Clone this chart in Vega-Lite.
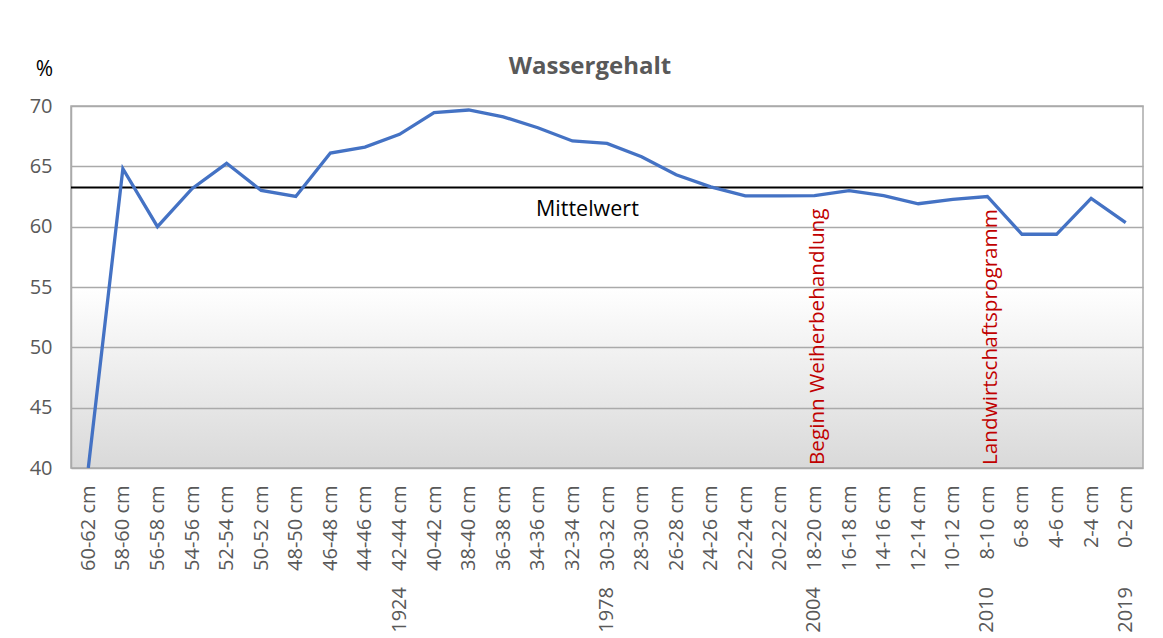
{
  "$schema": "https://vega.github.io/schema/vega-lite/v6.json",
  "autosize": "none",
  "padding": {"left": 71, "top": 106, "right": 20, "bottom": 170},
  "width": 1072,
  "height": 362,
  "background": "white",
  "title": {
    "text": "Wassergehalt",
    "fontSize": 24,
    "fontWeight": "bold",
    "color": "#595959",
    "anchor": "middle",
    "dx": -17,
    "dy": 47,
    "offset": 26
  },
  "config": {
    "font": "Open Sans",
    "view": {
      "stroke": "#aaaaaa",
      "strokeWidth": 1.5,
      "fill": {
        "gradient": "linear",
        "x1": 0, "y1": 0, "x2": 0, "y2": 1,
        "stops": [
          {"offset": 0, "color": "#ffffff"},
          {"offset": 0.5, "color": "#ffffff"},
          {"offset": 1, "color": "#d9d9d9"}
        ]
      }
    }
  },
  "datasets": {
    "werte": [
      {"tiefe": "60-62 cm", "wert": 40, "jahr": ""},
      {"tiefe": "58-60 cm", "wert": 64.8, "jahr": ""},
      {"tiefe": "56-58 cm", "wert": 60.0, "jahr": ""},
      {"tiefe": "54-56 cm", "wert": 63.15, "jahr": ""},
      {"tiefe": "52-54 cm", "wert": 65.25, "jahr": ""},
      {"tiefe": "50-52 cm", "wert": 63.0, "jahr": ""},
      {"tiefe": "48-50 cm", "wert": 62.5, "jahr": ""},
      {"tiefe": "46-48 cm", "wert": 66.1, "jahr": ""},
      {"tiefe": "44-46 cm", "wert": 66.6, "jahr": ""},
      {"tiefe": "42-44 cm", "wert": 67.65, "jahr": "1924"},
      {"tiefe": "40-42 cm", "wert": 69.45, "jahr": ""},
      {"tiefe": "38-40 cm", "wert": 69.67, "jahr": ""},
      {"tiefe": "36-38 cm", "wert": 69.1, "jahr": ""},
      {"tiefe": "34-36 cm", "wert": 68.2, "jahr": ""},
      {"tiefe": "32-34 cm", "wert": 67.1, "jahr": ""},
      {"tiefe": "30-32 cm", "wert": 66.9, "jahr": "1978"},
      {"tiefe": "28-30 cm", "wert": 65.8, "jahr": ""},
      {"tiefe": "26-28 cm", "wert": 64.3, "jahr": ""},
      {"tiefe": "24-26 cm", "wert": 63.3, "jahr": ""},
      {"tiefe": "22-24 cm", "wert": 62.55, "jahr": ""},
      {"tiefe": "20-22 cm", "wert": 62.55, "jahr": ""},
      {"tiefe": "18-20 cm", "wert": 62.57, "jahr": "2004"},
      {"tiefe": "16-18 cm", "wert": 62.98, "jahr": ""},
      {"tiefe": "14-16 cm", "wert": 62.57, "jahr": ""},
      {"tiefe": "12-14 cm", "wert": 61.9, "jahr": ""},
      {"tiefe": "10-12 cm", "wert": 62.27, "jahr": ""},
      {"tiefe": "8-10 cm", "wert": 62.5, "jahr": "2010"},
      {"tiefe": "6-8 cm", "wert": 59.37, "jahr": ""},
      {"tiefe": "4-6 cm", "wert": 59.37, "jahr": ""},
      {"tiefe": "2-4 cm", "wert": 62.35, "jahr": ""},
      {"tiefe": "0-2 cm", "wert": 60.33, "jahr": "2019"}
    ],
    "mittel": [
      {"tiefe": "32-34 cm", "wert": 63.25, "text": "Mittelwert"}
    ],
    "ereignisse": [
      {"tiefe": "18-20 cm", "wert": 40, "text": "Beginn Weiherbehandlung"},
      {"tiefe": "8-10 cm", "wert": 40, "text": "Landwirtschaftsprogramm"}
    ]
  },
  "layer": [
    {
      "data": {"name": "mittel"},
      "mark": {"type": "rule", "color": "#000000", "strokeWidth": 2},
      "encoding": {
        "y": {"field": "wert", "type": "quantitative"}
      }
    },
    {
      "data": {"name": "werte"},
      "mark": {"type": "line", "color": "#4472c4", "strokeWidth": 3.3, "clip": true},
      "encoding": {
        "x": {
          "field": "tiefe",
          "type": "nominal",
          "sort": null,
          "title": null,
          "scale": {
            "domain": ["60-62 cm", "58-60 cm", "56-58 cm", "54-56 cm", "52-54 cm", "50-52 cm", "48-50 cm", "46-48 cm", "44-46 cm", "42-44 cm", "40-42 cm", "38-40 cm", "36-38 cm", "34-36 cm", "32-34 cm", "30-32 cm", "28-30 cm", "26-28 cm", "24-26 cm", "22-24 cm", "20-22 cm", "18-20 cm", "16-18 cm", "14-16 cm", "12-14 cm", "10-12 cm", "8-10 cm", "6-8 cm", "4-6 cm", "2-4 cm", "0-2 cm"]
          },
          "axis": {
            "labelAngle": 270,
            "labelAlign": "right",
            "labelBaseline": "middle",
            "labelPadding": 17,
            "labelFontSize": 20,
            "labelColor": "#595959",
            "ticks": false,
            "domain": false,
            "grid": false
          }
        },
        "y": {
          "field": "wert",
          "type": "quantitative",
          "scale": {"domain": [40, 70], "nice": false, "zero": false},
          "title": "%",
          "axis": {
            "values": [40, 45, 50, 55, 60, 65, 70],
            "labelFontSize": 20,
            "labelColor": "#595959",
            "labelPadding": 19,
            "ticks": false,
            "domain": true,
            "domainColor": "#aaaaaa",
            "domainWidth": 1.5,
            "gridColor": "#aaaaaa",
            "gridWidth": 1.5,
            "titleAngle": 0,
            "titleX": -27,
            "titleY": -37,
            "titleAlign": "center",
            "titleBaseline": "middle",
            "titleFontSize": 21,
            "titleFontWeight": "normal",
            "titleColor": "#000000"
          }
        }
      }
    },
    {
      "data": {"name": "werte"},
      "mark": {"type": "text", "angle": 270, "align": "right", "baseline": "middle", "dx": -119, "fontSize": 20, "color": "#595959"},
      "encoding": {
        "x": {"field": "tiefe", "type": "nominal", "sort": null},
        "y": {"datum": 40},
        "text": {"field": "jahr"}
      }
    },
    {
      "data": {"name": "mittel"},
      "mark": {"type": "text", "align": "center", "baseline": "alphabetic", "dx": 15, "dy": 29, "fontSize": 21.5, "color": "#000000"},
      "encoding": {
        "x": {"field": "tiefe", "type": "nominal"},
        "y": {"field": "wert", "type": "quantitative"},
        "text": {"field": "text"}
      }
    },
    {
      "data": {"name": "ereignisse"},
      "mark": {"type": "text", "angle": 270, "align": "left", "baseline": "middle", "dx": 3, "dy": 4, "fontSize": 20.7, "color": "#c00000"},
      "encoding": {
        "x": {"field": "tiefe", "type": "nominal"},
        "y": {"field": "wert", "type": "quantitative"},
        "text": {"field": "text"}
      }
    }
  ]
}
